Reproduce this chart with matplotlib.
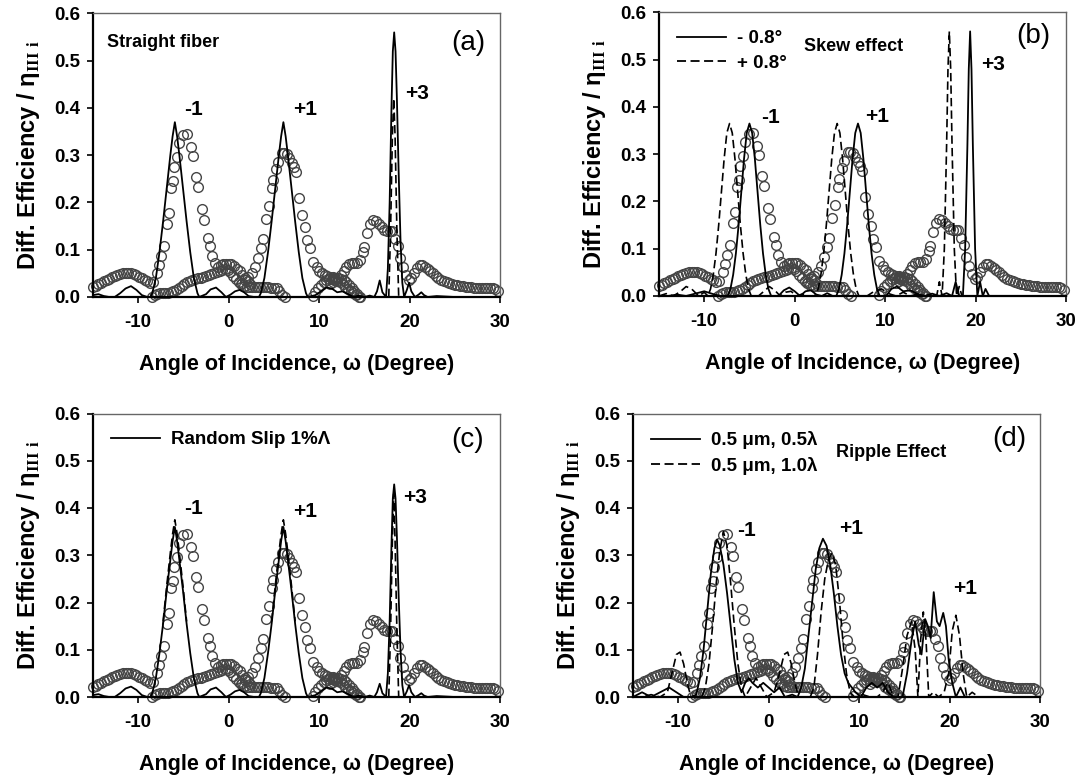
import matplotlib
matplotlib.use("Agg")
import matplotlib.pyplot as plt
from matplotlib.lines import Line2D
from matplotlib.ticker import FormatStrFormatter

plt.rcParams['font.family'] = ['Liberation Sans', 'DejaVu Sans']
plt.rcParams['font.weight'] = 'bold'
plt.rcParams['mathtext.fontset'] = 'custom'
plt.rcParams['mathtext.rm'] = 'Liberation Serif'
plt.rcParams['axes.unicode_minus'] = False

# ---- measured data (open circles), same in all four panels ----
exp_m1 = [(-15.0, 0.022), (-14.7, 0.024), (-14.4, 0.027), (-14.1, 0.030), (-13.8, 0.033),
          (-13.5, 0.036), (-13.2, 0.039), (-12.9, 0.042), (-12.6, 0.044), (-12.3, 0.046),
          (-12.0, 0.048), (-11.7, 0.050), (-11.4, 0.051), (-11.1, 0.051), (-10.8, 0.050),
          (-10.5, 0.048), (-10.2, 0.046), (-9.9, 0.043), (-9.6, 0.040), (-9.3, 0.036),
          (-9.0, 0.033), (-8.7, 0.030), (-8.35, 0.032), (-7.95, 0.050), (-7.7, 0.068),
          (-7.45, 0.086), (-7.2, 0.107), (-6.85, 0.154), (-6.6, 0.177), (-6.38, 0.230),
          (-6.12, 0.245), (-6.0, 0.276), (-5.76, 0.297), (-5.46, 0.325), (-5.02, 0.343),
          (-4.6, 0.345), (-4.2, 0.318), (-3.92, 0.298), (-3.63, 0.255), (-3.37, 0.233),
          (-3.0, 0.186), (-2.74, 0.163), (-2.34, 0.124), (-2.08, 0.107), (-1.83, 0.086),
          (-1.53, 0.072), (-1.2, 0.064), (-0.9, 0.067), (-0.6, 0.069), (-0.3, 0.070),
          (0.0, 0.070), (0.3, 0.069), (0.6, 0.066), (0.9, 0.060), (1.2, 0.054),
          (1.5, 0.047), (1.8, 0.040), (2.1, 0.033), (2.4, 0.028)]
exp_low = [(-8.5, 0.000), (-8.2, 0.005), (-7.9, 0.007), (-7.6, 0.008), (-7.3, 0.008),
           (-7.0, 0.008), (-6.7, 0.009), (-6.4, 0.010), (-6.1, 0.012), (-5.8, 0.015),
           (-5.5, 0.020), (-5.2, 0.024), (-4.9, 0.028), (-4.6, 0.031), (-4.3, 0.034),
           (-4.0, 0.036), (-3.7, 0.038), (-3.4, 0.040), (-3.1, 0.041), (-2.8, 0.042),
           (-2.5, 0.044), (-2.2, 0.046), (-1.9, 0.048), (-1.6, 0.050), (-1.3, 0.053),
           (-1.0, 0.056), (-0.7, 0.058), (-0.4, 0.060), (-0.1, 0.058), (0.2, 0.052),
           (0.5, 0.045), (0.8, 0.038), (1.1, 0.032), (1.4, 0.027), (1.7, 0.024),
           (2.0, 0.022), (2.3, 0.021), (2.6, 0.021), (2.9, 0.021), (3.2, 0.021),
           (3.5, 0.021), (3.8, 0.021), (4.1, 0.021), (4.4, 0.021), (4.7, 0.020),
           (5.0, 0.020), (5.3, 0.018), (5.6, 0.012), (5.9, 0.004), (6.2, 0.000)]
exp_p1 = [(1.5, 0.030), (1.8, 0.036), (2.1, 0.043), (2.55, 0.050), (2.92, 0.064),
          (3.29, 0.082), (3.55, 0.103), (3.77, 0.122), (4.14, 0.166), (4.5, 0.193),
          (4.76, 0.230), (4.95, 0.248), (5.2, 0.270), (5.5, 0.286), (5.87, 0.304),
          (6.15, 0.305), (6.42, 0.303), (6.7, 0.295), (6.97, 0.283), (7.2, 0.275),
          (7.45, 0.265), (7.82, 0.209), (8.08, 0.174), (8.45, 0.149), (8.7, 0.121),
          (9.0, 0.103), (9.37, 0.075), (9.73, 0.064), (10.0, 0.056), (10.29, 0.050),
          (10.6, 0.046), (10.9, 0.044), (11.2, 0.043), (11.5, 0.042), (11.8, 0.041),
          (12.1, 0.040), (12.4, 0.038), (12.7, 0.035), (13.0, 0.031), (13.3, 0.026),
          (13.6, 0.020), (13.9, 0.013), (14.2, 0.006), (14.5, 0.000)]
exp_mid = [(9.3, 0.003), (9.6, 0.010), (9.9, 0.018), (10.2, 0.026), (10.5, 0.032),
           (10.8, 0.036), (11.1, 0.038), (11.4, 0.038), (11.7, 0.036), (12.0, 0.034),
           (12.3, 0.031), (12.6, 0.027), (12.9, 0.022), (13.2, 0.017), (13.5, 0.012),
           (13.8, 0.008), (14.1, 0.004), (14.4, 0.001)]
exp_p3 = [(11.2, 0.028), (11.5, 0.031), (11.8, 0.035), (12.1, 0.040), (12.4, 0.046),
          (12.7, 0.054), (13.0, 0.064), (13.3, 0.070), (13.6, 0.072), (13.9, 0.072),
          (14.2, 0.072), (14.5, 0.078), (14.8, 0.095), (15.0, 0.105), (15.3, 0.135),
          (15.6, 0.155), (16.0, 0.163), (16.3, 0.160), (16.6, 0.155), (16.9, 0.148),
          (17.2, 0.142), (17.5, 0.140), (17.8, 0.140), (18.1, 0.140), (18.4, 0.122),
          (18.7, 0.107), (18.95, 0.083), (19.3, 0.064), (19.6, 0.046), (19.9, 0.037),
          (20.2, 0.040), (20.5, 0.050), (20.8, 0.062), (21.1, 0.068), (21.4, 0.067),
          (21.7, 0.064), (22.0, 0.060), (22.3, 0.055), (22.6, 0.050), (22.9, 0.045),
          (23.2, 0.041), (23.5, 0.037), (23.8, 0.034), (24.1, 0.032), (24.4, 0.030),
          (24.7, 0.028), (25.0, 0.026), (25.3, 0.025), (25.6, 0.024), (25.9, 0.023),
          (26.2, 0.022), (26.5, 0.021), (26.8, 0.021), (27.1, 0.020), (27.4, 0.020),
          (27.7, 0.020), (28.0, 0.020), (28.3, 0.020), (28.6, 0.020), (28.9, 0.019),
          (29.2, 0.018), (29.5, 0.016), (29.8, 0.013)]

# ---- theory curves ----
a_solid = [(-15, 0.004), (-14.4, 0.006), (-13.8, 0.002), (-13.2, 0.0), (-12.6, 0.0), (-12.0, 0.008),
           (-11.4, 0.018), (-10.8, 0.023), (-10.2, 0.015), (-9.6, 0.004), (-9.0, 0.0),
           (-8.65, 0.0), (-8.45, 0.008), (-8.05, 0.04), (-7.65, 0.095), (-7.25, 0.16),
           (-6.85, 0.23), (-6.45, 0.30), (-6.2, 0.34), (-5.95, 0.37), (-5.7, 0.34), (-5.45, 0.30),
           (-5.05, 0.23), (-4.65, 0.16), (-4.25, 0.095), (-3.85, 0.04), (-3.45, 0.008), (-3.25, 0.0),
           (-2.5, 0.006), (-2.0, 0.016), (-1.4, 0.02), (-0.8, 0.01), (-0.3, 0.0), (0.2, 0.005),
           (0.7, 0.012), (1.2, 0.015), (1.7, 0.01), (2.2, 0.002), (2.8, 0.0),
           (3.35, 0.0), (3.55, 0.008), (3.95, 0.04), (4.35, 0.095), (4.75, 0.16), (5.15, 0.23),
           (5.55, 0.30), (5.8, 0.34), (6.05, 0.37), (6.3, 0.34), (6.55, 0.30), (6.95, 0.23),
           (7.35, 0.16), (7.75, 0.095), (8.15, 0.04), (8.55, 0.008), (8.75, 0.0),
           (9.6, 0.004), (10.2, 0.012), (10.8, 0.02), (11.4, 0.018), (12.0, 0.01), (12.6, 0.012),
           (13.2, 0.006), (13.8, 0.0), (14.4, 0.003), (15.0, 0.0), (15.6, 0.003), (16.1, 0.0),
           (16.4, 0.012), (16.7, 0.035), (17.0, 0.01), (17.4, 0.0), (17.6, 0.06), (17.8, 0.2),
           (18.0, 0.40), (18.15, 0.52), (18.3, 0.56), (18.45, 0.52), (18.6, 0.42), (18.8, 0.26),
           (19.0, 0.12), (19.2, 0.03), (19.4, 0.0), (19.7, 0.015), (19.95, 0.03), (20.2, 0.012),
           (20.6, 0.0), (21.0, 0.005), (21.3, 0.01), (21.6, 0.004), (22.0, 0.0), (23.0, 0.002),
           (25.0, 0.0), (30.0, 0.0)]
a_dash = [(17.7, 0.0), (17.9, 0.14), (18.1, 0.34), (18.25, 0.42), (18.4, 0.34), (18.6, 0.14), (18.8, 0.0)]

b_solid = [(-15, 0.0), (-14, 0.0), (-13, 0.003), (-12, 0.0), (-11, 0.005), (-10, 0.01), (-9, 0.004),
           (-8.2, 0.0), (-7.4, 0.0), (-7.1, 0.015), (-6.8, 0.045), (-6.5, 0.09), (-6.2, 0.15),
           (-5.9, 0.22), (-5.6, 0.29), (-5.3, 0.345), (-5.0, 0.365), (-4.7, 0.345), (-4.4, 0.29),
           (-4.1, 0.22), (-3.8, 0.15), (-3.5, 0.09), (-3.2, 0.045), (-2.9, 0.015), (-2.6, 0.0),
           (-1.8, 0.0), (-1.2, 0.012), (-0.6, 0.018), (0.0, 0.01), (0.6, 0.0), (1.2, 0.01),
           (1.8, 0.012), (2.4, 0.003), (3.0, 0.0), (3.6, 0.006), (4.2, 0.0), (4.6, 0.0),
           (4.9, 0.015), (5.2, 0.045), (5.5, 0.09), (5.8, 0.15), (6.1, 0.22), (6.4, 0.29),
           (6.7, 0.345), (7.0, 0.365), (7.3, 0.345), (7.6, 0.29), (7.9, 0.22), (8.2, 0.15),
           (8.5, 0.09), (8.8, 0.045), (9.1, 0.015), (9.4, 0.0), (10.1, 0.0), (10.7, 0.015),
           (11.3, 0.02), (12.0, 0.01), (12.8, 0.012), (13.6, 0.004), (14.4, 0.0), (15.2, 0.005),
           (16.0, 0.0), (16.8, 0.006), (17.4, 0.0), (17.8, 0.03), (18.2, 0.0), (18.6, 0.0),
           (18.85, 0.1), (19.1, 0.32), (19.25, 0.48), (19.4, 0.56), (19.55, 0.48), (19.7, 0.32),
           (19.95, 0.1), (20.2, 0.0), (20.5, 0.03), (20.8, 0.0), (21.1, 0.015), (21.5, 0.0),
           (22.0, 0.0), (24.0, 0.0), (27.0, 0.0), (30.0, 0.0)]
b_dash = [(-15, 0.0), (-14.2, 0.005), (-13.4, 0.0), (-12.6, 0.01), (-12.0, 0.02), (-11.4, 0.015),
          (-10.6, 0.0), (-10.0, 0.008), (-9.6, 0.0), (-9.3, 0.015), (-9.0, 0.045), (-8.7, 0.09),
          (-8.4, 0.15), (-8.1, 0.22), (-7.8, 0.29), (-7.5, 0.345), (-7.2, 0.365), (-6.9, 0.345),
          (-6.6, 0.29), (-6.3, 0.22), (-6.0, 0.15), (-5.7, 0.09), (-5.4, 0.045), (-5.1, 0.015),
          (-4.8, 0.0), (-4.0, 0.0), (-3.4, 0.01), (-2.8, 0.02), (-2.2, 0.012), (-1.6, 0.0),
          (-1.0, 0.008), (-0.4, 0.01), (0.2, 0.0), (0.8, 0.004), (1.4, 0.0), (2.2, 0.0),
          (2.6, 0.015), (2.9, 0.045), (3.2, 0.09), (3.5, 0.15), (3.8, 0.22), (4.1, 0.29),
          (4.4, 0.345), (4.7, 0.365), (5.0, 0.345), (5.3, 0.29), (5.6, 0.22), (5.9, 0.15),
          (6.2, 0.09), (6.5, 0.045), (6.8, 0.015), (7.1, 0.0), (8.0, 0.0), (8.8, 0.01),
          (9.6, 0.015), (10.4, 0.005), (11.2, 0.0), (12.0, 0.008), (12.8, 0.0), (13.6, 0.004),
          (14.4, 0.0), (15.2, 0.004), (15.7, 0.0), (16.0, 0.03), (16.3, 0.0), (16.55, 0.1),
          (16.8, 0.32), (16.95, 0.48), (17.1, 0.56), (17.25, 0.48), (17.4, 0.32), (17.65, 0.1),
          (17.9, 0.0), (18.2, 0.02), (18.5, 0.0), (19.0, 0.0), (20.0, 0.0), (22.0, 0.0),
          (26.0, 0.0), (30.0, 0.0)]

c_solid = [(-15, 0.004), (-14.4, 0.006), (-13.8, 0.002), (-13.2, 0.0), (-12.6, 0.0), (-12.0, 0.008),
           (-11.4, 0.018), (-10.8, 0.022), (-10.2, 0.015), (-9.6, 0.004), (-9.0, 0.0),
           (-8.65, 0.0), (-8.45, 0.008), (-8.05, 0.04), (-7.65, 0.093), (-7.25, 0.155),
           (-6.85, 0.225), (-6.45, 0.29), (-6.2, 0.33), (-5.95, 0.36), (-5.7, 0.33), (-5.45, 0.29),
           (-5.05, 0.225), (-4.65, 0.155), (-4.25, 0.093), (-3.85, 0.04), (-3.45, 0.008), (-3.25, 0.0),
           (-2.5, 0.006), (-2.0, 0.016), (-1.4, 0.02), (-0.8, 0.01), (-0.3, 0.0), (0.2, 0.005),
           (0.7, 0.012), (1.2, 0.015), (1.7, 0.01), (2.2, 0.002), (2.8, 0.0),
           (3.35, 0.0), (3.55, 0.008), (3.95, 0.04), (4.35, 0.093), (4.75, 0.155), (5.15, 0.225),
           (5.55, 0.29), (5.8, 0.33), (6.05, 0.36), (6.3, 0.33), (6.55, 0.29), (6.95, 0.225),
           (7.35, 0.155), (7.75, 0.093), (8.15, 0.04), (8.55, 0.008), (8.75, 0.0),
           (9.6, 0.004), (10.2, 0.012), (10.8, 0.02), (11.4, 0.018), (12.0, 0.01), (12.6, 0.012),
           (13.2, 0.006), (13.8, 0.0), (14.4, 0.003), (15.0, 0.0), (15.6, 0.003), (16.1, 0.0),
           (16.4, 0.01), (16.7, 0.028), (17.0, 0.008), (17.4, 0.0), (17.6, 0.05), (17.8, 0.16),
           (18.0, 0.32), (18.15, 0.42), (18.3, 0.45), (18.45, 0.42), (18.6, 0.34), (18.8, 0.21),
           (19.0, 0.1), (19.2, 0.025), (19.4, 0.0), (19.7, 0.012), (19.95, 0.025), (20.2, 0.01),
           (20.6, 0.0), (21.0, 0.004), (21.3, 0.008), (21.6, 0.003), (22.0, 0.0), (23.0, 0.002),
           (25.0, 0.0), (30.0, 0.0)]
c_dash = [(-7.25, 0.16), (-6.85, 0.235), (-6.45, 0.305), (-6.2, 0.345), (-5.95, 0.375), (-5.7, 0.345),
          (-5.45, 0.305), (-5.05, 0.235), (-4.65, 0.16), (None, None),
          (4.75, 0.16), (5.15, 0.235), (5.55, 0.305), (5.8, 0.345), (6.05, 0.375), (6.3, 0.345),
          (6.55, 0.305), (6.95, 0.235), (7.35, 0.16), (None, None),
          (17.7, 0.0), (17.9, 0.14), (18.1, 0.33), (18.25, 0.43), (18.4, 0.33), (18.6, 0.14), (18.8, 0.0)]

d_solid = [(-15, 0.0), (-14, 0.01), (-13, 0.0), (-12, 0.01), (-11, 0.02), (-10.2, 0.01), (-9.4, 0.0),
           (-8.6, 0.0), (-8.0, 0.005), (-7.6, 0.04), (-7.2, 0.1), (-6.8, 0.18), (-6.4, 0.26),
           (-6.0, 0.315), (-5.7, 0.333), (-5.4, 0.32), (-5.0, 0.28), (-4.6, 0.22), (-4.2, 0.15),
           (-3.8, 0.08), (-3.4, 0.03), (-3.0, 0.01), (-2.6, 0.03), (-2.2, 0.04), (-1.8, 0.03),
           (-1.2, 0.02), (-0.6, 0.03), (0.0, 0.02), (0.6, 0.01), (1.2, 0.02), (1.8, 0.0),
           (2.6, 0.005), (3.2, 0.0), (3.6, 0.02), (4.0, 0.06), (4.4, 0.13), (4.8, 0.2),
           (5.2, 0.27), (5.6, 0.315), (6.0, 0.335), (6.4, 0.32), (6.8, 0.28), (7.2, 0.22),
           (7.6, 0.15), (8.0, 0.09), (8.4, 0.05), (8.8, 0.03), (9.2, 0.02), (9.6, 0.01),
           (10.2, 0.0), (10.8, 0.02), (11.4, 0.03), (12.0, 0.02), (12.6, 0.03), (13.2, 0.01),
           (13.8, 0.0), (14.4, 0.0), (14.8, 0.0), (15.3, 0.05), (15.8, 0.12), (16.2, 0.16),
           (16.6, 0.11), (16.9, 0.09), (17.3, 0.165), (17.6, 0.15), (17.9, 0.125), (18.25, 0.222),
           (18.6, 0.16), (18.9, 0.15), (19.3, 0.178), (19.6, 0.15), (19.9, 0.08), (20.3, 0.03),
           (20.7, 0.0), (21.2, 0.02), (21.7, 0.0), (22.5, 0.0), (25.0, 0.0), (30.0, 0.0)]
d_dash = [(-15, 0.0), (-14, 0.0), (-13, 0.005), (-12, 0.0), (-11.2, 0.01), (-10.7, 0.05),
          (-10.2, 0.09), (-9.8, 0.095), (-9.4, 0.07), (-9.0, 0.03), (-8.6, 0.0), (-7.4, 0.0),
          (-7.0, 0.02), (-6.6, 0.07), (-6.2, 0.15), (-5.8, 0.24), (-5.4, 0.31), (-5.0, 0.35),
          (-4.6, 0.32), (-4.2, 0.24), (-3.8, 0.15), (-3.4, 0.07), (-3.0, 0.02), (-2.6, 0.0),
          (-2.0, 0.02), (-1.4, 0.04), (-0.8, 0.02), (-0.2, 0.0), (0.6, 0.01), (1.2, 0.05),
          (1.7, 0.09), (2.1, 0.095), (2.5, 0.07), (2.9, 0.03), (3.3, 0.0), (4.6, 0.0),
          (5.0, 0.02), (5.4, 0.09), (5.8, 0.18), (6.2, 0.25), (6.6, 0.29), (7.0, 0.305),
          (7.4, 0.28), (7.8, 0.21), (8.2, 0.12), (8.6, 0.05), (9.0, 0.01), (9.5, 0.0),
          (10.4, 0.005), (11.2, 0.0), (12.0, 0.0), (12.6, 0.01), (13.2, 0.03), (13.8, 0.0),
          (14.3, 0.0), (14.8, 0.06), (15.3, 0.13), (15.8, 0.16), (16.2, 0.1), (16.5, 0.0),
          (16.8, 0.12), (17.1, 0.18), (17.4, 0.12), (17.7, 0.0), (18.2, 0.01), (18.8, 0.0),
          (19.4, 0.01), (19.9, 0.05), (20.3, 0.14), (20.7, 0.173), (21.1, 0.13), (21.5, 0.05),
          (21.9, 0.0), (22.5, 0.01), (23.2, 0.0), (26.0, 0.0), (30.0, 0.0)]

experiment = [exp_m1, exp_low, exp_p1, exp_mid, exp_p3]

LABEL_FS = 15.5
YLABEL_FS = 17
TICK_FS = 13.5
ORDER_FS = 15
NOTE_FS = 13
PANEL_FS = 20
DASH = (5, 2.5)


def unzip(pairs):
    xs = [p[0] if p[0] is not None else float('nan') for p in pairs]
    ys = [p[1] if p[1] is not None else float('nan') for p in pairs]
    return xs, ys


def style_axes(ax):
    ax.set_xlim(-15, 30)
    ax.set_ylim(0, 0.6)
    ax.set_xticks([-10, 0, 10, 20, 30])
    ax.set_yticks([0.0, 0.1, 0.2, 0.3, 0.4, 0.5, 0.6])
    ax.yaxis.set_major_formatter(FormatStrFormatter('%.1f'))
    ax.tick_params(axis='both', direction='out', length=4, width=1.2, labelsize=TICK_FS)
    ax.tick_params(axis='x', pad=8)
    ax.tick_params(axis='y', pad=5)
    for s in ['left', 'bottom']:
        ax.spines[s].set_linewidth(1.6)
    for s in ['top', 'right']:
        ax.spines[s].set_linewidth(1.0)
        ax.spines[s].set_color('#666666')
    ax.set_xlabel('Angle of Incidence, ω (Degree)', fontsize=LABEL_FS, fontweight='bold', labelpad=17)
    ax.set_ylabel(r'Diff. Efficiency / η$_{\mathrm{III\ i}}$', fontsize=YLABEL_FS,
                  fontweight='bold', labelpad=9)


def draw_experiment(ax):
    for pairs in experiment:
        xs, ys = unzip(pairs)
        ax.plot(xs, ys, linestyle='none', marker='o', ms=7, mfc='none',
                mec='#454545', mew=1.0, clip_on=False, zorder=2)


def draw_line(ax, pairs, ls='-'):
    xs, ys = unzip(pairs)
    if ls == '--':
        ax.plot(xs, ys, color='black', lw=1.2, ls='--', dashes=DASH, zorder=3)
    else:
        ax.plot(xs, ys, color='black', lw=1.3, zorder=3)


def add_legend(ax, labels, styles):
    handles = []
    for st in styles:
        if st == '--':
            handles.append(Line2D([], [], color='black', lw=1.3, ls='--', dashes=DASH))
        else:
            handles.append(Line2D([], [], color='black', lw=1.3))
    ax.legend(handles, labels, loc='upper left', frameon=False, handlelength=2.6,
              handletextpad=0.6, labelspacing=0.4, borderaxespad=0.55,
              prop={'size': TICK_FS, 'weight': 'bold'})


fig = plt.figure(figsize=(10.84, 7.79), dpi=100)
W, H = 407 / 1084, 283.5 / 779
ax_a = fig.add_axes([93 / 1084, 1 - 297 / 779, W, H])
ax_b = fig.add_axes([659 / 1084, 1 - 296 / 779, W, H])
ax_c = fig.add_axes([93 / 1084, 1 - 697 / 779, W, H])
ax_d = fig.add_axes([633 / 1084, 1 - 697 / 779, W, H])

# (a) straight fiber
draw_experiment(ax_a)
draw_line(ax_a, a_solid)
draw_line(ax_a, a_dash, '--')
ax_a.text(-13.4, 0.538, 'Straight fiber', fontsize=NOTE_FS, fontweight='bold', va='center')
ax_a.text(24.6, 0.537, '(a)', fontsize=PANEL_FS, fontweight='normal', va='center')
ax_a.text(-4.9, 0.396, '-1', fontsize=ORDER_FS, fontweight='bold', va='center')
ax_a.text(7.1, 0.396, '+1', fontsize=ORDER_FS, fontweight='bold', va='center')
ax_a.text(19.5, 0.431, '+3', fontsize=ORDER_FS, fontweight='bold', va='center')

# (b) skew effect
draw_experiment(ax_b)
draw_line(ax_b, b_solid)
draw_line(ax_b, b_dash, '--')
ax_b.text(1.0, 0.527, 'Skew effect', fontsize=NOTE_FS, fontweight='bold', va='center')
ax_b.text(24.5, 0.55, '(b)', fontsize=PANEL_FS, fontweight='normal', va='center')
ax_b.text(-3.7, 0.378, '-1', fontsize=ORDER_FS, fontweight='bold', va='center')
ax_b.text(7.8, 0.38, '+1', fontsize=ORDER_FS, fontweight='bold', va='center')
ax_b.text(20.6, 0.49, '+3', fontsize=ORDER_FS, fontweight='bold', va='center')
add_legend(ax_b, ['- 0.8°', '+ 0.8°'], ['-', '--'])

# (c) random slip
draw_experiment(ax_c)
draw_line(ax_c, c_solid)
draw_line(ax_c, c_dash, '--')
ax_c.text(24.6, 0.544, '(c)', fontsize=PANEL_FS, fontweight='normal', va='center')
ax_c.text(-4.9, 0.40, '-1', fontsize=ORDER_FS, fontweight='bold', va='center')
ax_c.text(7.1, 0.392, '+1', fontsize=ORDER_FS, fontweight='bold', va='center')
ax_c.text(19.3, 0.423, '+3', fontsize=ORDER_FS, fontweight='bold', va='center')
add_legend(ax_c, ['Random Slip 1%Λ'], ['-'])

# (d) ripple effect
draw_experiment(ax_d)
draw_line(ax_d, d_solid)
draw_line(ax_d, d_dash, '--')
ax_d.text(7.4, 0.517, 'Ripple Effect', fontsize=NOTE_FS, fontweight='bold', va='center')
ax_d.text(24.7, 0.545, '(d)', fontsize=PANEL_FS, fontweight='normal', va='center')
ax_d.text(-3.5, 0.353, '-1', fontsize=ORDER_FS, fontweight='bold', va='center')
ax_d.text(7.8, 0.356, '+1', fontsize=ORDER_FS, fontweight='bold', va='center')
ax_d.text(20.4, 0.23, '+1', fontsize=ORDER_FS, fontweight='bold', va='center')
add_legend(ax_d, ['0.5 μm, 0.5λ', '0.5 μm, 1.0λ'], ['-', '--'])

for ax in [ax_a, ax_b, ax_c, ax_d]:
    style_axes(ax)

fig.savefig('out.png', dpi=100, facecolor='white')
